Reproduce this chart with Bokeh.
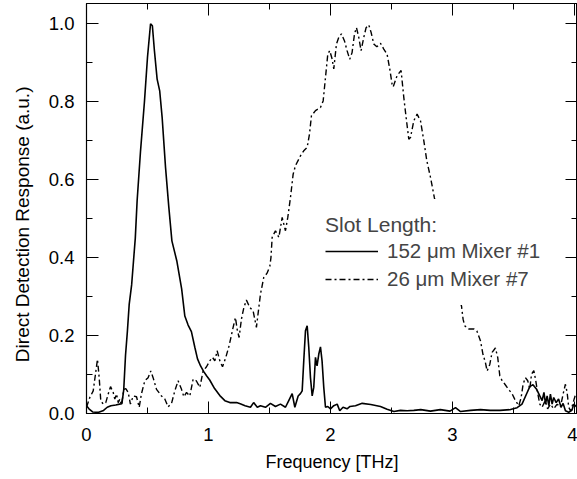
from bokeh.plotting import figure
from bokeh.models import (LinearAxis, FixedTicker, Range1d, Legend, LegendItem,
                          CustomLabelingPolicy)
from bokeh.embed import file_html
from bokeh.resources import INLINE

# ---- data ----
freq_152 = [0.0, 0.02, 0.05, 0.1, 0.14, 0.17, 0.2, 0.24, 0.27, 0.29, 0.305, 0.32, 0.335, 0.35, 0.37,
            0.385, 0.40, 0.415, 0.443, 0.475, 0.50, 0.525, 0.54, 0.557, 0.579, 0.60, 0.62, 0.648,
            0.675, 0.70, 0.74, 0.78, 0.806, 0.833, 0.86, 0.888, 0.91, 0.935, 0.96, 0.984, 1.01,
            1.05, 1.093, 1.134, 1.175, 1.23, 1.26, 1.30, 1.344, 1.37, 1.40, 1.426, 1.467, 1.508,
            1.549, 1.59, 1.631, 1.658, 1.686, 1.708, 1.735, 1.754, 1.768, 1.781, 1.795, 1.809,
            1.822, 1.836, 1.85, 1.863, 1.877, 1.89, 1.904, 1.918, 1.931, 1.945, 1.959, 1.978, 2.0,
            2.027, 2.055, 2.076, 2.103, 2.136, 2.16, 2.205, 2.26, 2.33, 2.41, 2.464, 2.52, 2.574,
            2.628, 2.683, 2.74, 2.82, 2.9, 2.98, 3.025, 3.066, 3.148, 3.23, 3.31, 3.39, 3.475,
            3.53, 3.57, 3.607, 3.634, 3.66, 3.688, 3.716, 3.735, 3.75, 3.763, 3.776, 3.79, 3.803,
            3.817, 3.83, 3.85, 3.87, 3.89, 3.907, 3.926, 3.953, 3.98, 3.994, 4.02]
resp_152 = [0.02, 0.012, 0.004, 0.003, 0.008, 0.016, 0.02, 0.022, 0.024, 0.025, 0.06, 0.15, 0.21,
            0.28, 0.33, 0.39, 0.45, 0.546, 0.674, 0.80, 0.914, 1.0, 0.995, 0.93, 0.858, 0.828, 0.76,
            0.631, 0.529, 0.443, 0.392, 0.32, 0.25, 0.227, 0.21, 0.17, 0.14, 0.122, 0.108, 0.097,
            0.086, 0.064, 0.046, 0.033, 0.028, 0.028, 0.025, 0.02, 0.016, 0.028, 0.016, 0.02,
            0.016, 0.026, 0.018, 0.024, 0.016, 0.033, 0.051, 0.016, 0.045, 0.051, 0.058, 0.135,
            0.212, 0.225, 0.17, 0.092, 0.045, 0.067, 0.144, 0.122, 0.152, 0.171, 0.135, 0.067,
            0.016, 0.018, 0.012, 0.02, 0.024, 0.007, 0.016, 0.012, 0.018, 0.02, 0.026, 0.023,
            0.018, 0.011, 0.005, 0.008, 0.007, 0.008, 0.01, 0.006, 0.01, 0.006, 0.015, 0.005,
            0.008, 0.01, 0.008, 0.008, 0.01, 0.015, 0.024, 0.05, 0.069, 0.074, 0.063, 0.045,
            0.033, 0.054, 0.024, 0.045, 0.02, 0.05, 0.024, 0.041, 0.028, 0.037, 0.016, 0.026,
            0.007, 0.003, 0.009, 0.024, 0.016]

freq_26 = [0.0, 0.027, 0.055, 0.077, 0.09, 0.104, 0.117, 0.137, 0.158, 0.178, 0.197, 0.219, 0.232,
           0.246, 0.26, 0.273, 0.287, 0.306, 0.322, 0.342, 0.36, 0.383, 0.41, 0.432, 0.45, 0.478,
           0.505, 0.527, 0.546, 0.574, 0.615, 0.642, 0.669, 0.697, 0.724, 0.751, 0.779, 0.798,
           0.82, 0.847, 0.874, 0.90, 0.929, 0.956, 0.984, 1.01, 1.033, 1.052, 1.071, 1.093, 1.115,
           1.142, 1.169, 1.202, 1.221, 1.235, 1.251, 1.27, 1.29, 1.311, 1.339, 1.366, 1.393,
           1.404, 1.426, 1.453, 1.48, 1.503, 1.512, 1.522, 1.549, 1.577, 1.604, 1.631, 1.65,
           1.672, 1.694, 1.713, 1.754, 1.781, 1.809, 1.828, 1.844, 1.877, 1.918, 1.94, 1.959,
           1.978, 1.994, 2.014, 2.027, 2.049, 2.068, 2.09, 2.115, 2.136, 2.158, 2.177, 2.197,
           2.213, 2.232, 2.251, 2.273, 2.292, 2.314, 2.333, 2.355, 2.38, 2.41, 2.437, 2.464,
           2.486, 2.505, 2.514, 2.546, 2.579, 2.601, 2.62, 2.642, 2.656, 2.683, 2.71, 2.738,
           2.765, 2.79, 2.82, 2.852, 2.9, 2.95, 3.0, 3.04, 3.074, 3.087, 3.1, 3.134, 3.175, 3.2,
           3.23, 3.25, 3.27, 3.284, 3.306, 3.325, 3.352, 3.371, 3.388, 3.407, 3.43, 3.448, 3.47,
           3.49, 3.516, 3.544, 3.563, 3.579, 3.598, 3.617, 3.634, 3.648, 3.667, 3.683, 3.7,
           3.716, 3.735, 3.76, 3.78, 3.803, 3.83, 3.858, 3.885, 3.907, 3.926, 3.94, 3.953, 3.97,
           3.994, 4.01]
resp_26 = [0.016, 0.041, 0.058, 0.109, 0.139, 0.092, 0.033, 0.024, 0.028, 0.05, 0.069, 0.054,
           0.037, 0.05, 0.028, 0.037, 0.022, 0.062, 0.064, 0.054, 0.024, 0.045, 0.043, 0.016,
           0.05, 0.084, 0.092, 0.109, 0.092, 0.062, 0.045, 0.037, 0.017, 0.026, 0.058, 0.084,
           0.062, 0.043, 0.054, 0.045, 0.088, 0.084, 0.067, 0.109, 0.12, 0.135, 0.144, 0.135,
           0.161, 0.135, 0.12, 0.144, 0.174, 0.221, 0.246, 0.216, 0.195, 0.242, 0.272, 0.291,
           0.272, 0.263, 0.221, 0.25, 0.306, 0.349, 0.36, 0.378, 0.40, 0.452, 0.469, 0.452,
           0.503, 0.469, 0.503, 0.554, 0.614, 0.636, 0.661, 0.674, 0.683, 0.717, 0.764, 0.777,
           0.785, 0.802, 0.862, 0.922, 0.931, 0.909, 0.884, 0.948, 0.965, 0.974, 0.956, 0.931,
           0.909, 0.926, 0.974, 0.99, 0.965, 0.931, 0.965, 0.99, 0.997, 0.978, 0.948, 0.941,
           0.95, 0.935, 0.922, 0.884, 0.845, 0.838, 0.867, 0.88, 0.811, 0.76, 0.704, 0.708,
           0.751, 0.768, 0.751, 0.70, 0.648, 0.606, 0.553, 0.50, 0.43, 0.36, 0.31, 0.276, 0.242,
           0.225, 0.217, 0.217, 0.212, 0.186, 0.152, 0.131, 0.109, 0.126, 0.157, 0.168, 0.144,
           0.097, 0.084, 0.075, 0.067, 0.058, 0.05, 0.033, 0.02, 0.041, 0.075, 0.092, 0.084,
           0.063, 0.101, 0.11, 0.084, 0.05, 0.024, 0.016, 0.033, 0.012, 0.024, 0.012, 0.024,
           0.016, 0.05, 0.075, 0.054, 0.016, 0.006, 0.033, 0.05]

x_ticks = [0, 1, 2, 3, 4]
x_minor = [0.5, 1.5, 2.5, 3.5]
y_ticks = [0.0, 0.2, 0.4, 0.6, 0.8, 1.0]
y_minor = [0.1, 0.3, 0.5, 0.7, 0.9]
y_labels = ["0.0", "0.2", "0.4", "0.6", "0.8", "1.0"]
x_labels = ["0", "1", "2", "3", "4"]

x_title = "Frequency [THz]"
y_title = "Direct Detection Response (a.u.)"
legend_title = "Slot Length:"
label_152 = "152 \u03bcm Mixer #1"
label_26 = "26 \u03bcm Mixer #7"

FONT = "Liberation Sans"

p = figure(width=577, height=479, output_backend="svg", toolbar_location=None,
           x_range=Range1d(0, 4.025), y_range=Range1d(0, 1.052),
           min_border_left=86, min_border_right=0, min_border_top=3, min_border_bottom=66,
           x_axis_label=x_title,
           y_axis_label=y_title + "\u00a0" * 6)
p.background_fill_color = "white"
p.border_fill_color = "white"
p.outline_line_color = "black"
p.xgrid.visible = False
p.ygrid.visible = False

hide_labels = CustomLabelingPolicy(
    code="const ids = Array.from(indices); for (const i of ids) { indices.unset(i) } return indices")

def style_axis(ax, ticks, minor, labels, show_labels):
    ax.ticker = FixedTicker(ticks=ticks, minor_ticks=minor)
    ax.axis_line_color = "black"
    ax.axis_line_width = 1.2
    ax.major_tick_line_color = "black"
    ax.minor_tick_line_color = "black"
    ax.major_tick_in = 12
    ax.major_tick_out = 0
    ax.minor_tick_in = 6
    ax.minor_tick_out = 0
    if show_labels:
        ax.major_label_overrides = {t: l for t, l in zip(ticks, labels)}
        ax.major_label_text_font = FONT
        ax.major_label_text_font_size = "18.5px"
        ax.major_label_text_color = "black"
        ax.axis_label_text_font = FONT
        ax.axis_label_text_font_size = "18px"
        ax.axis_label_text_font_style = "normal"
        ax.axis_label_text_color = "black"
    else:
        ax.major_label_policy = hide_labels
        ax.major_label_text_font_size = "0px"
        ax.major_label_standoff = 0

style_axis(p.xaxis[0], x_ticks, x_minor, x_labels, True)
style_axis(p.yaxis[0], y_ticks, y_minor, y_labels, True)
p.xaxis[0].major_label_standoff = 14
p.xaxis[0].axis_label_standoff = 8
p.yaxis[0].major_label_standoff = 12
p.yaxis[0].axis_label_standoff = 13
p.yaxis[0].axis_label_text_font_size = "19px"

top_ax = LinearAxis()
style_axis(top_ax, x_ticks, x_minor, x_labels, False)
p.add_layout(top_ax, "above")
right_ax = LinearAxis()
style_axis(right_ax, y_ticks, y_minor, y_labels, False)
p.add_layout(right_ax, "right")

r1 = p.line(freq_152, resp_152, line_color="black", line_width=1.6)
r2 = p.line(freq_26, resp_26, line_color="black", line_width=1.4, line_dash="6 3 2 3")

legend = Legend(items=[LegendItem(label=label_152, renderers=[r1]),
                       LegendItem(label=label_26, renderers=[r2])],
                location=(225, 108), title=legend_title,
                title_text_font=FONT, title_text_font_size="21px", title_text_font_style="normal",
                title_standoff=2,
                label_text_font=FONT, label_text_font_size="20.5px",
                glyph_width=53, glyph_height=24, label_height=24, label_standoff=9,
                spacing=4, padding=14, margin=0,
                border_line_alpha=0, background_fill_color="white", background_fill_alpha=1.0)
p.add_layout(legend, "center")

open("out.html", "w").write(file_html(p, INLINE))
